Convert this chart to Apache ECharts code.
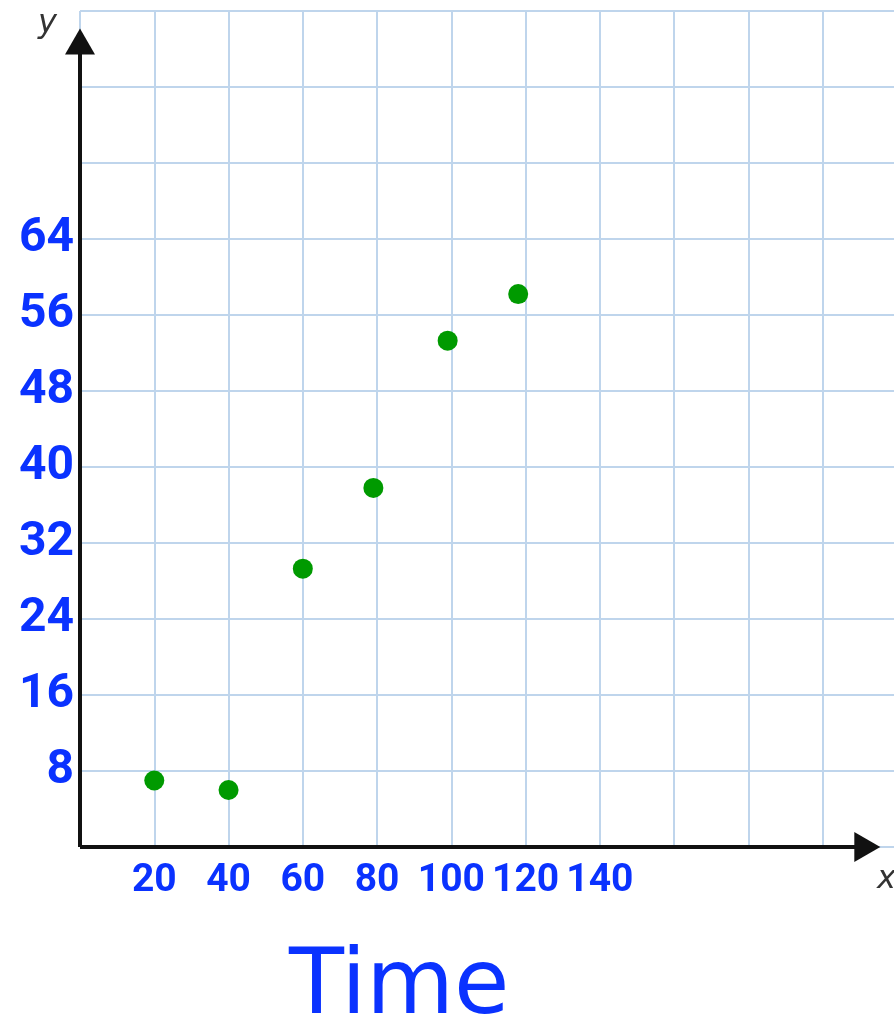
<!DOCTYPE html>
<html>
<head>
<meta charset="utf-8">
<script src="https://cdn.jsdelivr.net/npm/echarts@6/dist/echarts.min.js"></script>
<style>html,body{margin:0;padding:0;background:#fff;overflow:hidden;}#c{width:900px;height:1030px;}</style>
</head>
<body>
<div id="c"></div>
<script>
var xValues = [20, 40, 60, 79, 99, 118];
var yValues = [7, 6, 29.3, 37.8, 53.3, 58.2];
var xTickLabels = ['20', '40', '60', '80', '100', '120', '140'];
var yTickLabels = ['8', '16', '24', '32', '40', '48', '56', '64'];
var xAxisEnd = 212;
var yAxisEnd = 84.8;

var points = xValues.map(function (x, i) { return [x, yValues[i]]; });
var blue = '#0a32ff';
var labelFont = 'Roboto, "DejaVu Sans", sans-serif';

var chart = echarts.init(document.getElementById('c'), null, {renderer: 'canvas'});
chart.setOption({
  animation: false,
  backgroundColor: '#ffffff',
  title: {
    text: 'Time', left: 284, top: 940,
    textStyle: {color: blue, fontSize: 90, fontWeight: 'normal', fontFamily: '"DejaVu Sans", sans-serif'}
  },
  grid: {left: 80, right: 3, top: 11, bottom: 183},
  xAxis: {
    type: 'value', min: 0, max: 220, interval: 20,
    axisLine: {show: false}, axisTick: {show: false},
    splitLine: {show: true, lineStyle: {color: '#bfd5ec', width: 2}},
    axisLabel: {
      margin: 15, color: blue, fontSize: 39, fontWeight: 'bold', fontFamily: labelFont,
      formatter: function (v) { var i = v / 20 - 1; return (i >= 0 && i < xTickLabels.length) ? xTickLabels[i] : ''; }
    }
  },
  yAxis: {
    type: 'value', min: 0, max: 88, interval: 8,
    axisLine: {show: false}, axisTick: {show: false},
    splitLine: {show: true, lineStyle: {color: '#bfd5ec', width: 2}},
    axisLabel: {
      margin: 6, color: blue, fontSize: 48, fontWeight: 'bold', fontFamily: labelFont,
      formatter: function (v) { var i = v / 8 - 1; return (i >= 0 && i < yTickLabels.length) ? yTickLabels[i] : ''; }
    }
  },
  graphic: [
    {type: 'text', left: 38, top: 8, style: {text: 'y', fill: '#333', font: 'italic 32px "DejaVu Sans", sans-serif'}},
    {type: 'text', left: 877, top: 864, style: {text: 'x', fill: '#333', font: 'italic 32px "DejaVu Sans", sans-serif'}}
  ],
  series: [{
    type: 'scatter',
    data: points,
    symbolSize: 20,
    itemStyle: {color: '#009a00', opacity: 1},
    z: 5,
    markLine: {
      silent: true,
      symbol: ['none', 'triangle'],
      symbolSize: [30, 26],
      label: {show: false},
      lineStyle: {color: '#111111', width: 4, type: 'solid'},
      itemStyle: {color: '#111111'},
      data: [
        [{coord: [0, 0]}, {coord: [xAxisEnd, 0]}],
        [{coord: [0, 0]}, {coord: [0, yAxisEnd]}]
      ]
    }
  }]
});
</script>
</body>
</html>
